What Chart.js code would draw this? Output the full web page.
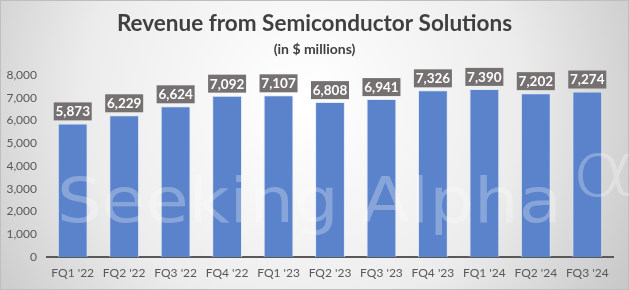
<!DOCTYPE html>
<html><head><meta charset="utf-8">
<script src="https://cdn.jsdelivr.net/npm/chart.js@4.4.0/dist/chart.umd.min.js"></script>
<style>html,body{margin:0;padding:0;background:#fff}#wrap{width:629px;height:290px}</style>
</head><body><div id="wrap"><canvas id="c" width="629" height="290"></canvas></div>
<script>
const categories = ["FQ1 '22","FQ2 '22","FQ3 '22","FQ4 '22","FQ1 '23","FQ2 '23","FQ3 '23","FQ4 '23","FQ1 '24","FQ2 '24","FQ3 '24"];
const revenue = [5873,6229,6624,7092,7107,6808,6941,7326,7390,7202,7274];
const yTicks = [0,1000,2000,3000,4000,5000,6000,7000,8000];
const titleText = "Revenue from Semiconductor Solutions";
const subtitleText = "(in $ millions)";
const watermarkText = "Seeking Alpha";

const bgPlugin = {
  id:'bg',
  beforeDraw(chart){
    const {ctx,width,height} = chart;
    ctx.save();
    const g = ctx.createRadialGradient(width*0.48,height*0.35,10,width*0.48,height*0.35,width*0.62);
    g.addColorStop(0,'#ffffff');
    g.addColorStop(0.55,'#ececec');
    g.addColorStop(1,'#c4c4c4');
    ctx.fillStyle = g;
    ctx.fillRect(0,0,width,height);
    ctx.strokeStyle = '#bfbfbf';
    ctx.lineWidth = 1;
    ctx.strokeRect(0.5,0.5,width-1,height-1);
    ctx.fillStyle = '#404040';
    ctx.textAlign = 'center';
    ctx.textBaseline = 'middle';
    ctx.font = 'bold 22.5px Lato';
    ctx.fillText(titleText, width/2, 24);
    ctx.font = 'bold 14px Lato';
    ctx.fillText(subtitleText, width/2, 49);
    ctx.restore();
  }
};
const overlayPlugin = {
  id:'overlay',
  afterDatasetsDraw(chart){
    const {ctx} = chart;
    ctx.save();
    ctx.fillStyle = 'rgba(255,255,255,0.28)';
    ctx.textAlign = 'left';
    ctx.textBaseline = 'alphabetic';
    ctx.font = '62px "DejaVu Sans"';
    const m = ctx.measureText(watermarkText).width;
    ctx.save();
    ctx.translate(57, 222);
    ctx.scale(505/m, 1);
    ctx.fillText(watermarkText, 0, 0);
    ctx.restore();
    ctx.font = '300 76px "DejaVu Sans"';
    ctx.save();
    ctx.translate(570, 196);
    ctx.scale(1.35, 1);
    ctx.fillText('\u03b1', 0, 0);
    ctx.restore();
    ctx.restore();
    const meta = chart.getDatasetMeta(0);
    ctx.save();
    ctx.font = 'bold 13.5px Lato';
    ctx.textAlign = 'center';
    ctx.textBaseline = 'middle';
    meta.data.forEach((bar,i)=>{
      const txt = revenue[i].toLocaleString('en-US');
      const w = 38, h = 18;
      const x = bar.x - w/2, y = bar.y - 3 - h;
      ctx.fillStyle = '#767171';
      ctx.fillRect(x,y,w,h);
      ctx.fillStyle = '#ffffff';
      ctx.fillText(txt, bar.x, y + h/2 + 0.5);
    });
    ctx.restore();
  }
};

new Chart(document.getElementById('c'), {
  type:'bar',
  data:{labels:categories, datasets:[{data:revenue, backgroundColor:'#5b83cb', borderColor:'rgba(220,230,245,0.8)', borderWidth:1, categoryPercentage:1, barPercentage:0.58}]},
  options:{
    responsive:false, animation:false, devicePixelRatio:1,
    layout:{padding:{top:75,right:16,bottom:0,left:0}},
    plugins:{legend:{display:false}, tooltip:{enabled:false}},
    scales:{
      x:{grid:{display:false, drawTicks:false}, border:{display:true,color:'#595959',width:2},
         ticks:{color:'#595959', font:{family:'Lato',size:12}, padding:9, maxRotation:0},
         afterFit(s){s.height = 33;}},
      y:{min:0,max:8000, grid:{display:false, drawTicks:false}, border:{display:false},
         afterBuildTicks(s){s.ticks = yTicks.map(v=>({value:v}));},
         ticks:{color:'#595959', font:{family:'Lato',size:12}, padding:10, callback:v=>v.toLocaleString('en-US')},
         afterFit(s){s.width = 47;}}
    }
  },
  plugins:[bgPlugin, overlayPlugin]
});
</script></body></html>
